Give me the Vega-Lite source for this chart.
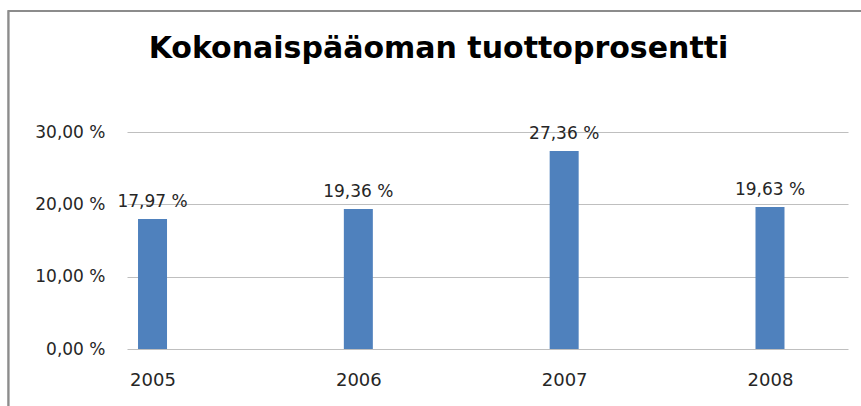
{
  "$schema": "https://vega.github.io/schema/vega-lite/v6.json",
  "autosize": "none",
  "width": 721,
  "height": 217,
  "padding": {"left": 127, "top": 132, "right": 13, "bottom": 57},
  "background": "white",
  "config": {
    "view": {"stroke": null},
    "locale": {
      "number": {"decimal": ",", "thousands": " ", "grouping": [3], "currency": ["", "\u00a0%"]}
    },
    "font": "DejaVu Sans"
  },
  "title": {
    "text": "Kokonaispääoman tuottoprosentti",
    "font": "DejaVu Sans",
    "fontSize": 30,
    "fontWeight": "bold",
    "color": "#000000",
    "anchor": "middle",
    "dx": -49,
    "offset": -54
  },
  "data": {
    "values": [
      {"year": 2005, "value": 17.97},
      {"year": 2006, "value": 19.36},
      {"year": 2007, "value": 27.36},
      {"year": 2008, "value": 19.63}
    ]
  },
  "layer": [
    {
      "mark": {"type": "bar", "width": 29, "color": "#4F81BD"},
      "encoding": {
        "x": {
          "field": "year",
          "type": "quantitative",
          "scale": {"domain": [2004.876, 2008.379], "nice": false, "zero": false, "padding": 0},
          "axis": {
            "values": [2005, 2006, 2007, 2008],
            "format": "d",
            "title": null,
            "grid": false,
            "domain": false,
            "ticks": false,
            "tickSize": 0,
            "labelFont": "DejaVu Sans",
            "labelFontSize": 18,
            "labelColor": "#262626",
            "labelBaseline": "alphabetic",
            "labelPadding": 36
          }
        },
        "y": {
          "field": "value",
          "type": "quantitative",
          "scale": {"domain": [0, 30], "nice": false, "padding": 0},
          "axis": {
            "values": [0, 10, 20, 30],
            "format": "$.2f",
            "title": null,
            "domain": false,
            "ticks": false,
            "tickSize": 0,
            "grid": true,
            "gridColor": "#bfbfbf",
            "gridWidth": 1,
            "labelFont": "DejaVu Sans",
            "labelFontSize": 17,
            "labelColor": "#262626",
            "labelPadding": 22
          }
        }
      }
    },
    {
      "mark": {"type": "text", "baseline": "alphabetic", "dy": -12, "font": "DejaVu Sans", "fontSize": 17, "color": "#262626"},
      "encoding": {
        "x": {"field": "year", "type": "quantitative"},
        "y": {"field": "value", "type": "quantitative"},
        "text": {"field": "value", "type": "quantitative", "format": "$.2f"}
      }
    },
    {
      "mark": {"type": "rect", "fill": null, "stroke": "#8c8c8c", "strokeWidth": 1.5, "clip": false},
      "encoding": {
        "x": {"datum": 2004.300, "type": "quantitative"},
        "x2": {"datum": 2008.49},
        "y": {"datum": 46.73, "type": "quantitative"},
        "y2": {"datum": -9.8}
      }
    }
  ]
}
